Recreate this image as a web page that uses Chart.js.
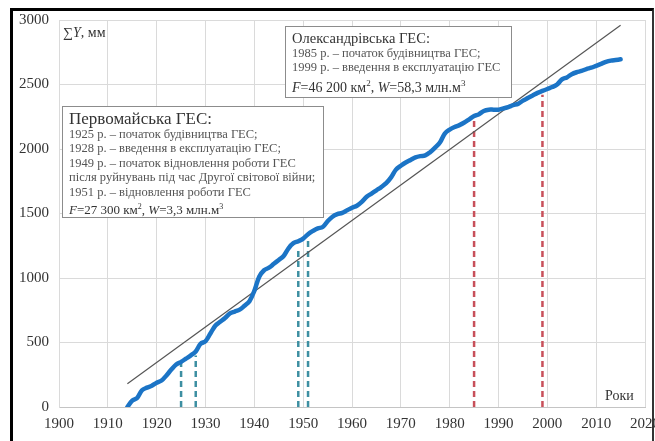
<!DOCTYPE html>
<html>
<head>
<meta charset="utf-8">
<script src="https://cdn.jsdelivr.net/npm/chart.js@4"></script>
<style>
  body { margin: 0; background: #fff; }
  #wrap { position: relative; width: 655px; height: 441px; overflow: hidden; font-family: "Liberation Serif", serif; }
  #frame { position: absolute; left: 10px; top: 8px; right: 1px; bottom: -5px;
           border-top: 3px solid #000; border-left: 3px solid #000; border-right: 2px solid #333; }
  canvas { position: absolute; left: 0; top: 0; }
  .note { position: absolute; background: #fff; border: 1px solid #8c8c8c; box-sizing: border-box; }
  .note div { position: absolute; left: 6px; white-space: nowrap; color: #555; font-size: 12.5px; line-height: 14px; }
  .note .t { color: #333; }
  .note .f { color: #333; }
  .lbl { position: absolute; color: #333; font-size: 14px; line-height: 16px; white-space: nowrap; }
</style>
</head>
<body>
<div id="wrap">
  <canvas id="myChart" width="655" height="441"></canvas>
  <div id="frame"></div>
  <div class="lbl" style="left:63px;top:25px">∑<i>Y</i>, мм</div>
  <div class="lbl" style="left:605px;top:388px">Роки</div>

  <div class="note" style="left:62px;top:106px;width:262px;height:112px">
    <div class="t" style="top:2px;font-size:17px;line-height:19px">Первомайська ГЕС:</div>
    <div style="top:20px">1925 р. – початок будівництва ГЕС;</div>
    <div style="top:34px">1928 р. – введення в експлуатацію ГЕС;</div>
    <div style="top:49px">1949 р. – початок відновлення роботи ГЕС</div>
    <div style="top:63px">після руйнувань під час Другої світової війни;</div>
    <div style="top:78px">1951 р. – відновлення роботи ГЕС</div>
    <div class="f" style="top:92px;font-size:13px;line-height:16px"><i>F</i>=27 300 км<sup style="font-size:8px">2</sup>, <i>W</i>=3,3 млн.м<sup style="font-size:8px">3</sup></div>
  </div>

  <div class="note" style="left:285px;top:26px;width:227px;height:72px">
    <div class="t" style="top:3px;font-size:14.5px;line-height:16px">Олександрівська ГЕС:</div>
    <div style="top:19px">1985 р. – початок будівництва ГЕС;</div>
    <div style="top:33px">1999 р. – введення в експлуатацію ГЕС</div>
    <div class="f" style="top:48px;font-size:14px;line-height:17px"><i>F</i>=46 200 км<sup style="font-size:9px">2</sup>, <i>W</i>=58,3 млн.м<sup style="font-size:9px">3</sup></div>
  </div>
</div>

<script>
// cumulative runoff sum, mm
const years = [1914, 1915, 1916, 1917, 1918, 1919, 1920, 1921, 1922, 1923, 1924, 1925, 1926, 1927, 1928, 1929,
  1930, 1931, 1932, 1933, 1934, 1935, 1936, 1937, 1938, 1939, 1940, 1941, 1942, 1943, 1944, 1945, 1946, 1947,
  1948, 1949, 1950, 1951, 1952, 1953, 1954, 1955, 1956, 1957, 1958, 1959, 1960, 1961, 1962, 1963, 1964, 1965,
  1966, 1967, 1968, 1969, 1970, 1971, 1972, 1973, 1974, 1975, 1976, 1977, 1978, 1979, 1980, 1981, 1982, 1983,
  1984, 1985, 1986, 1987, 1988, 1989, 1990, 1991, 1992, 1993, 1994, 1995, 1996, 1997, 1998, 1999, 2000, 2001,
  2002, 2003, 2004, 2005, 2006, 2007, 2008, 2009, 2010, 2011, 2012, 2013, 2014, 2015];
const sumY = [0, 50, 70, 130, 150, 165, 188, 205, 245, 290, 330, 350, 375, 400, 430, 490,
  510, 570, 630, 660, 690, 725, 740, 755, 785, 820, 900, 1010, 1060, 1080, 1110, 1140, 1170, 1230,
  1270, 1285, 1305, 1340, 1365, 1385, 1395, 1440, 1475, 1495, 1505, 1525, 1545, 1560, 1590, 1630, 1655, 1680,
  1705, 1735, 1780, 1840, 1870, 1895, 1915, 1935, 1945, 1950, 1975, 2010, 2050, 2120, 2150, 2170, 2185, 2205,
  2230, 2255, 2270, 2295, 2305, 2305, 2305, 2315, 2325, 2340, 2350, 2375, 2395, 2415, 2435, 2450, 2465, 2480,
  2500, 2540, 2555, 2580, 2595, 2605, 2620, 2630, 2645, 2660, 2675, 2685, 2690, 2695];

// straight trend line ends
const trendYears = [1914, 2015];
const trendValues = [180, 2960];

// dam events: vertical dashed markers
const eventYears = [1925, 1928, 1949, 1951, 1985, 1999];
const eventTops = [350, 400, 1235, 1295, 2235, 2420];
const eventColors = ['#3d8fa2', '#3d8fa2', '#3d8fa2', '#3d8fa2', '#c8505a', '#c8505a'];

const serif = 'Liberation Serif';

const datasets = [];
eventYears.forEach((yr, i) => {
  datasets.push({
    data: [{ x: yr, y: 0 }, { x: yr, y: eventTops[i] }],
    borderColor: eventColors[i],
    borderWidth: 2.5,
    borderDash: [6, 4],
    pointRadius: 0,
    order: 3
  });
});
datasets.push({
  data: trendYears.map((x, i) => ({ x: x, y: trendValues[i] })),
  borderColor: '#555',
  borderWidth: 1.2,
  pointRadius: 0,
  order: 2
});
datasets.push({
  data: years.map((x, i) => ({ x: x, y: sumY[i] })),
  borderColor: '#1b74c6',
  borderWidth: 4.5,
  borderCapStyle: 'round',
  borderJoinStyle: 'round',
  tension: 0.35,
  pointRadius: 0,
  order: 1
});

const ctx = document.getElementById('myChart').getContext('2d');
const myChart = new Chart(ctx, {
  type: 'line',
  data: { datasets: datasets },
  options: {
    responsive: false,
    animation: false,
    layout: { padding: { top: 20, right: 10, left: 0, bottom: 0 } },
    plugins: { legend: { display: false }, tooltip: { enabled: false } },
    scales: {
      x: {
        type: 'linear',
        min: 1900,
        max: 2020,
        ticks: {
          stepSize: 10,
          padding: 8,
          maxRotation: 0,
          color: '#333',
          font: { family: serif, size: 15 },
          callback: v => String(v)
        },
        grid: { color: '#dadada', drawTicks: false },
        border: { color: '#c4c4c4' },
        afterFit(s) { s.height = 34; s.paddingLeft = 0; s.paddingRight = 0; }
      },
      y: {
        min: 0,
        max: 3000,
        ticks: {
          stepSize: 500,
          padding: 10,
          color: '#333',
          font: { family: serif, size: 15 },
          callback: v => String(v)
        },
        grid: { color: '#dadada', drawTicks: false },
        border: { color: '#dadada' },
        afterFit(s) { s.width = 59; }
      }
    }
  }
});
</script>
</body>
</html>
